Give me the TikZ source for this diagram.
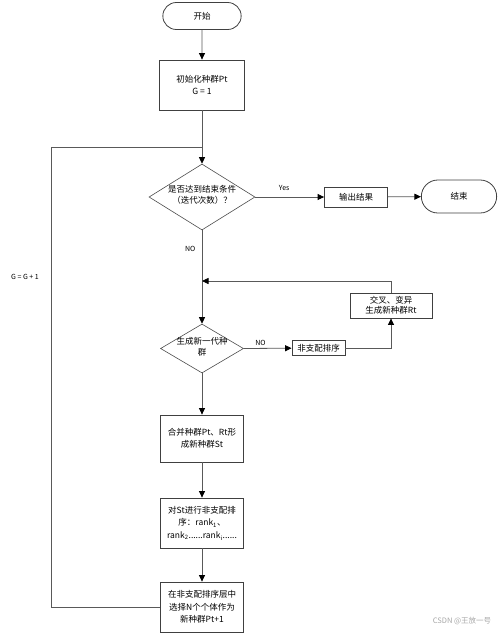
\documentclass[tikz,border=0pt]{standalone}
\usepackage{fontspec}
\setmainfont{Noto Sans CJK SC}
\usetikzlibrary{shapes.geometric,shapes.misc,arrows.meta}
\tikzset{
    box/.style={draw=black!75, line width=0.8pt, fill=white, align=center, inner sep=1pt},
    term/.style={rounded rectangle, draw=black!75, line width=0.8pt, fill=white},
    decision/.style={diamond, draw=black!70, line width=0.6pt, inner sep=0pt},
    link/.style={draw=black!65, line width=0.8pt},
    arr/.style={link, -{Triangle[length=6.5pt,width=6pt,black]}},
    lbl/.style={font=\fontsize{7}{8}\selectfont},
}
\begin{document}
\begin{tikzpicture}[x=1pt,y=-1pt,font=\fontsize{8.5}{12.5}\selectfont]
    \def\midx{202}
    \def\boxw{83pt}
    \useasboundingbox (0,0) rectangle (503,633);

    % Kolom utama
    \node[term, minimum width=85pt, minimum height=27pt] (start) at (\midx,16) {开始};
    \node[box, minimum width=85pt, minimum height=50pt] (init) at (\midx,85) {初始化种群Pt\\G = 1};
    \node[decision, minimum width=106pt, minimum height=66pt] (check) at (\midx,197) {};
    \node[align=center, font=\fontsize{8.5}{11}\selectfont] (checktxt) at (\midx,195) {是否达到结束条件\\（迭代次数）？};
    \node[decision, minimum width=83pt, minimum height=49pt] (gen) at (\midx,348.5) {};
    \node[align=center, font=\fontsize{8.5}{11}\selectfont] (gentxt) at (\midx,347) {生成新一代种\\群};
    \node[box, minimum width=\boxw, minimum height=47pt] (merge) at (\midx,438.5) {合并种群Pt、Rt形\\成新种群St};
    \node[box, minimum width=\boxw, minimum height=50pt] (sort) at (\midx,523) {对St进行非支配排\\序：rank\textsubscript{1}、\\rank\textsubscript{2}......rank\textsubscript{i}......};
    \node[box, minimum width=\boxw, minimum height=50pt] (select) at (\midx,607) {在非支配排序层中\\选择N个个体作为\\新种群Pt+1};

    % Cabang kanan
    \node[box, minimum width=63pt, minimum height=20pt] (output) at (356,197) {输出结果};
    \node[term, minimum width=82pt, minimum height=33pt] (finish) at (459,196.5) {结束};
    \node[box, minimum width=53pt, minimum height=15pt, inner sep=0pt] (nds) at (318.5,348) {非支配排序};
    \node[box, minimum width=82pt, minimum height=25pt, inner sep=0pt, font=\fontsize{8.5}{10}\selectfont] (cross) at (391,305.5) {交叉、变异\\生成新种群Rt};

    % Titik sambungan
    \coordinate (loopjoin) at (\midx,147);
    \coordinate (loopleft) at (51,147);
    \coordinate (backjoin) at (\midx,281);

    % Panah utama
    \draw[arr] (start) -- (init);
    \draw[arr] (init) -- (check.north);
    \draw[arr] (check.east) -- node[lbl, above=3pt, pos=0.42] (yes) {Yes} (output);
    \draw[arr] (output) -- (finish);
    \draw[arr] (check.south) -- node[lbl, pos=0.2, left=3pt] (no1) {NO} (gen.north);
    \draw[arr] (gen.east) -- node[lbl, above=-1pt, pos=0.35] (no2) {NO} (nds);
    \draw[arr] (nds.east) -| (cross.south);
    \draw[arr] (cross.north) |- (backjoin);
    \draw[arr] (gen.south) -- (merge);
    \draw[arr] (merge) -- (sort);
    \draw[arr] (sort) -- (select);

    % Loop G = G + 1
    \draw[link] (select.west) -| (loopleft) -- (loopjoin);
    \node[lbl] (incr) at (25,277) {G = G + 1};

    \node[text=black!35, font=\fontsize{7.5}{9}\selectfont] (mark) at (462,621) {CSDN @王放一号};
\end{tikzpicture}
\end{document}
